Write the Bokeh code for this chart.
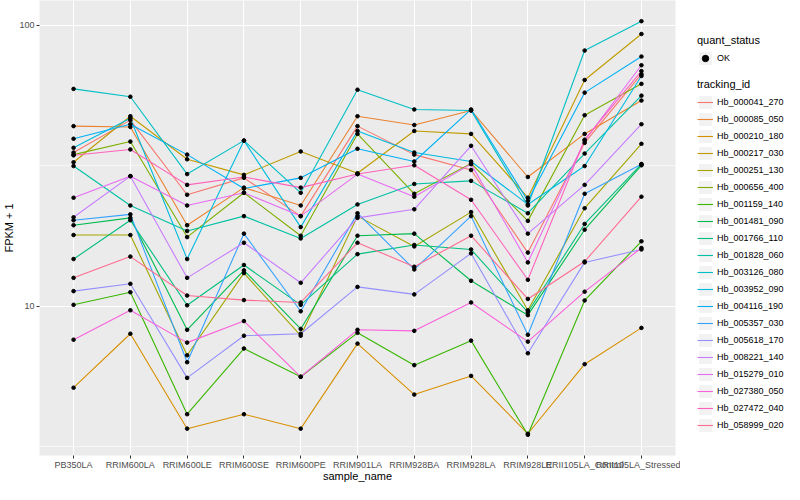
import math
from bokeh.plotting import figure
from bokeh.models import FactorRange, Range1d, FixedTicker, Legend, LegendItem, PrintfTickFormatter
from bokeh.layouts import row
from bokeh.embed import file_html
from bokeh.resources import INLINE

samples = ["PB350LA", "RRIM600LA", "RRIM600LE", "RRIM600SE", "RRIM600PE", "RRIM901LA",
           "RRIM928BA", "RRIM928LA", "RRIM928LE", "RRII105LA_Control", "RRII105LA_Stressed"]

tracking_ids = ["Hb_000041_270", "Hb_000085_050", "Hb_000210_180", "Hb_000217_030", "Hb_000251_130",
                "Hb_000656_400", "Hb_001159_140", "Hb_001481_090", "Hb_001766_110", "Hb_001828_060",
                "Hb_003126_080", "Hb_003952_090", "Hb_004116_190", "Hb_005357_030", "Hb_005618_170",
                "Hb_008221_140", "Hb_015279_010", "Hb_027380_050", "Hb_027472_040", "Hb_058999_020"]

colors = ["#F8766D", "#EA8331", "#D89000", "#C09B00", "#A3A500", "#7CAE00", "#39B600", "#00BB4E",
          "#00BF7D", "#00C1A3", "#00BFC4", "#00BAE0", "#00B0F6", "#35A2FF", "#9590FF", "#C77CFF",
          "#E76BF3", "#FA62DB", "#FF62BC", "#FF6C91"]

hb_000041_270 = [35.2, 45.9, 24.9, 28.6, 20.9, 43.7, 34.6, 30.5, 15.5, 38.1, 66.9]
hb_000085_050 = [43.7, 43.4, 19.4, 26.4, 22.8, 47.4, 44.1, 49.7, 28.8, 41.0, 53.9]
hb_000210_180 = [5.12, 7.97, 3.66, 4.12, 3.66, 7.35, 4.84, 5.64, 3.51, 6.21, 8.36]
hb_000217_030 = [32.5, 47.4, 33.3, 29.3, 35.5, 29.7, 42.0, 41.0, 24.3, 63.8, 93.0]
hb_000251_130 = [17.9, 17.9, 6.68, 13.1, 7.84, 20.9, 16.3, 21.6, 9.66, 22.3, 37.8]
hb_000656_400 = [34.6, 38.5, 17.6, 25.3, 17.8, 41.0, 25.1, 32.2, 20.1, 47.8, 61.8]
hb_001159_140 = [10.1, 11.2, 4.12, 7.06, 5.60, 8.03, 6.16, 7.53, 3.48, 10.47, 17.0]
hb_001481_090 = [19.4, 20.6, 8.23, 13.4, 8.29, 17.8, 18.1, 12.3, 9.28, 18.7, 31.7]
hb_001766_110 = [14.7, 20.2, 10.06, 14.0, 10.1, 15.3, 16.5, 15.9, 9.51, 19.6, 32.0]
hb_001828_060 = [31.5, 22.8, 18.5, 20.9, 17.4, 23.0, 27.2, 27.9, 21.4, 34.9, 56.1]
hb_003126_080 = [59.3, 55.6, 29.5, 38.8, 25.3, 58.9, 50.1, 49.7, 22.8, 81.2, 103.3]
hb_003952_090 = [36.6, 46.6, 14.7, 38.8, 19.1, 42.0, 35.2, 32.7, 23.0, 31.5, 65.9]
hb_004116_190 = [39.4, 44.4, 34.6, 26.2, 28.6, 36.3, 32.7, 50.1, 23.7, 57.5, 77.3]
hb_005357_030 = [20.2, 21.2, 6.31, 18.1, 9.58, 21.4, 13.5, 20.9, 7.90, 25.1, 32.0]
hb_005618_170 = [11.3, 12.0, 5.55, 7.84, 7.97, 11.7, 11.0, 15.4, 6.79, 14.3, 15.9]
hb_008221_140 = [20.7, 29.0, 12.6, 16.8, 12.1, 20.6, 22.1, 37.2, 18.1, 27.0, 44.4]
hb_015279_010 = [24.3, 29.0, 22.8, 25.3, 20.9, 29.5, 24.5, 32.0, 14.3, 38.8, 72.0]
hb_027380_050 = [7.59, 9.66, 7.41, 8.84, 5.60, 8.23, 8.16, 10.3, 7.47, 11.25, 16.1]
hb_027472_040 = [34.4, 36.1, 27.0, 28.8, 26.4, 29.5, 31.7, 23.9, 12.4, 39.1, 68.6]
hb_058999_020 = [12.6, 15.0, 10.9, 10.5, 10.3, 16.8, 13.8, 17.8, 10.6, 14.4, 24.5]

series = [hb_000041_270, hb_000085_050, hb_000210_180, hb_000217_030, hb_000251_130,
          hb_000656_400, hb_001159_140, hb_001481_090, hb_001766_110, hb_001828_060,
          hb_003126_080, hb_003952_090, hb_004116_190, hb_005357_030, hb_005618_170,
          hb_008221_140, hb_015279_010, hb_027380_050, hb_027472_040, hb_058999_020]

FONT = "Liberation Sans"

allv = [v for s in series for v in s]
lo, hi = math.log10(min(allv)), math.log10(max(allv))
pad = 0.05 * (hi - lo)

p = figure(width=680, height=484,
           x_range=FactorRange(factors=samples, range_padding=0.1, range_padding_units="absolute"),
           y_axis_type="log", y_range=Range1d(10 ** (lo - pad), 10 ** (hi + pad)),
           output_backend="svg", toolbar_location=None,
           min_border_left=30, min_border_right=5, min_border_top=0, min_border_bottom=0)
p.background_fill_color = "#EBEBEB"
p.border_fill_color = "white"
p.outline_line_color = None

p.xgrid.grid_line_color = "white"
p.xgrid.grid_line_width = 1.1
p.ygrid.grid_line_color = "white"
p.ygrid.grid_line_width = 1.1
p.ygrid.minor_grid_line_color = "white"
p.ygrid.minor_grid_line_width = 0.55

p.yaxis.ticker = FixedTicker(ticks=[10, 100], minor_ticks=[10 ** 0.5, 10 ** 1.5])
p.yaxis.formatter = PrintfTickFormatter(format="%d")

for ax in (p.xaxis, p.yaxis):
    ax.axis_line_color = None
    ax.major_tick_line_color = "#333333"
    ax.major_tick_out = 3
    ax.major_tick_in = 0
    ax.minor_tick_line_color = None
    ax.major_label_text_font = FONT
    ax.major_label_text_font_size = "9px"
    ax.major_label_text_color = "#4D4D4D"
    ax.major_label_standoff = 1
    ax.axis_label_text_font = FONT
    ax.axis_label_text_font_size = "11px"
    ax.axis_label_text_font_style = "normal"
    ax.axis_label_text_color = "black"
    ax.axis_label_standoff = 1

p.xaxis.major_label_text_line_height = 1.0
p.xaxis.axis_label_text_line_height = 1.0
p.xaxis.axis_label_standoff = -3

p.xaxis.axis_label = "sample_name"
p.yaxis.axis_label = "FPKM + 1"

for vals, c in zip(series, colors):
    p.line(x=samples, y=vals, line_color=c, line_width=1.1)

px = [s for vals in series for s in samples]
py = [v for vals in series for v in vals]
p.scatter(x=px, y=py, size=3.6, color="black")

# legend panel (separate figure with hidden dummy renderers)
lf = figure(width=104, height=484, output_backend="svg", toolbar_location=None,
            x_range=Range1d(0, 1), y_range=Range1d(0, 1),
            x_axis_type=None, y_axis_type=None, min_border=0)
lf.outline_line_color = None
lf.grid.visible = False
lf.background_fill_color = "white"
lf.border_fill_color = "white"


def style_legend(lg):
    lg.margin = 0
    lg.padding = 0
    lg.border_line_color = None
    lg.background_fill_alpha = 0
    lg.title_text_font = FONT
    lg.title_text_font_size = "11px"
    lg.title_text_font_style = "normal"
    lg.title_text_color = "black"
    lg.title_standoff = 4
    lg.label_text_font = FONT
    lg.label_text_font_size = "9px"
    lg.label_text_color = "black"
    lg.label_standoff = 4
    lg.glyph_width = 16
    lg.glyph_height = 16
    lg.label_height = 16
    lg.spacing = 1


bg = lf.quad(left=[5], right=[6], top=[6], bottom=[5], fill_color="#F2F2F2", line_color=None)
pt = lf.scatter(x=[5], y=[5], size=3.6, color="black")
lgq = Legend(items=[LegendItem(label="OK", renderers=[bg, pt])], title="quant_status",
             location=(17, 389))
style_legend(lgq)
lf.add_layout(lgq)

items = []
for name, c in zip(tracking_ids, colors):
    b = lf.quad(left=[5], right=[6], top=[6], bottom=[5], fill_color="#F2F2F2", line_color=None)
    ln = lf.line(x=[5, 6], y=[5, 6], line_color=c, line_width=1.1)
    items.append(LegendItem(label=name, renderers=[b, ln]))
lgt = Legend(items=items, title="tracking_id", location=(17, 22))
style_legend(lgt)
lf.add_layout(lgt)

layout = row(p, lf)
open("out.html", "w").write(file_html(layout, INLINE))
